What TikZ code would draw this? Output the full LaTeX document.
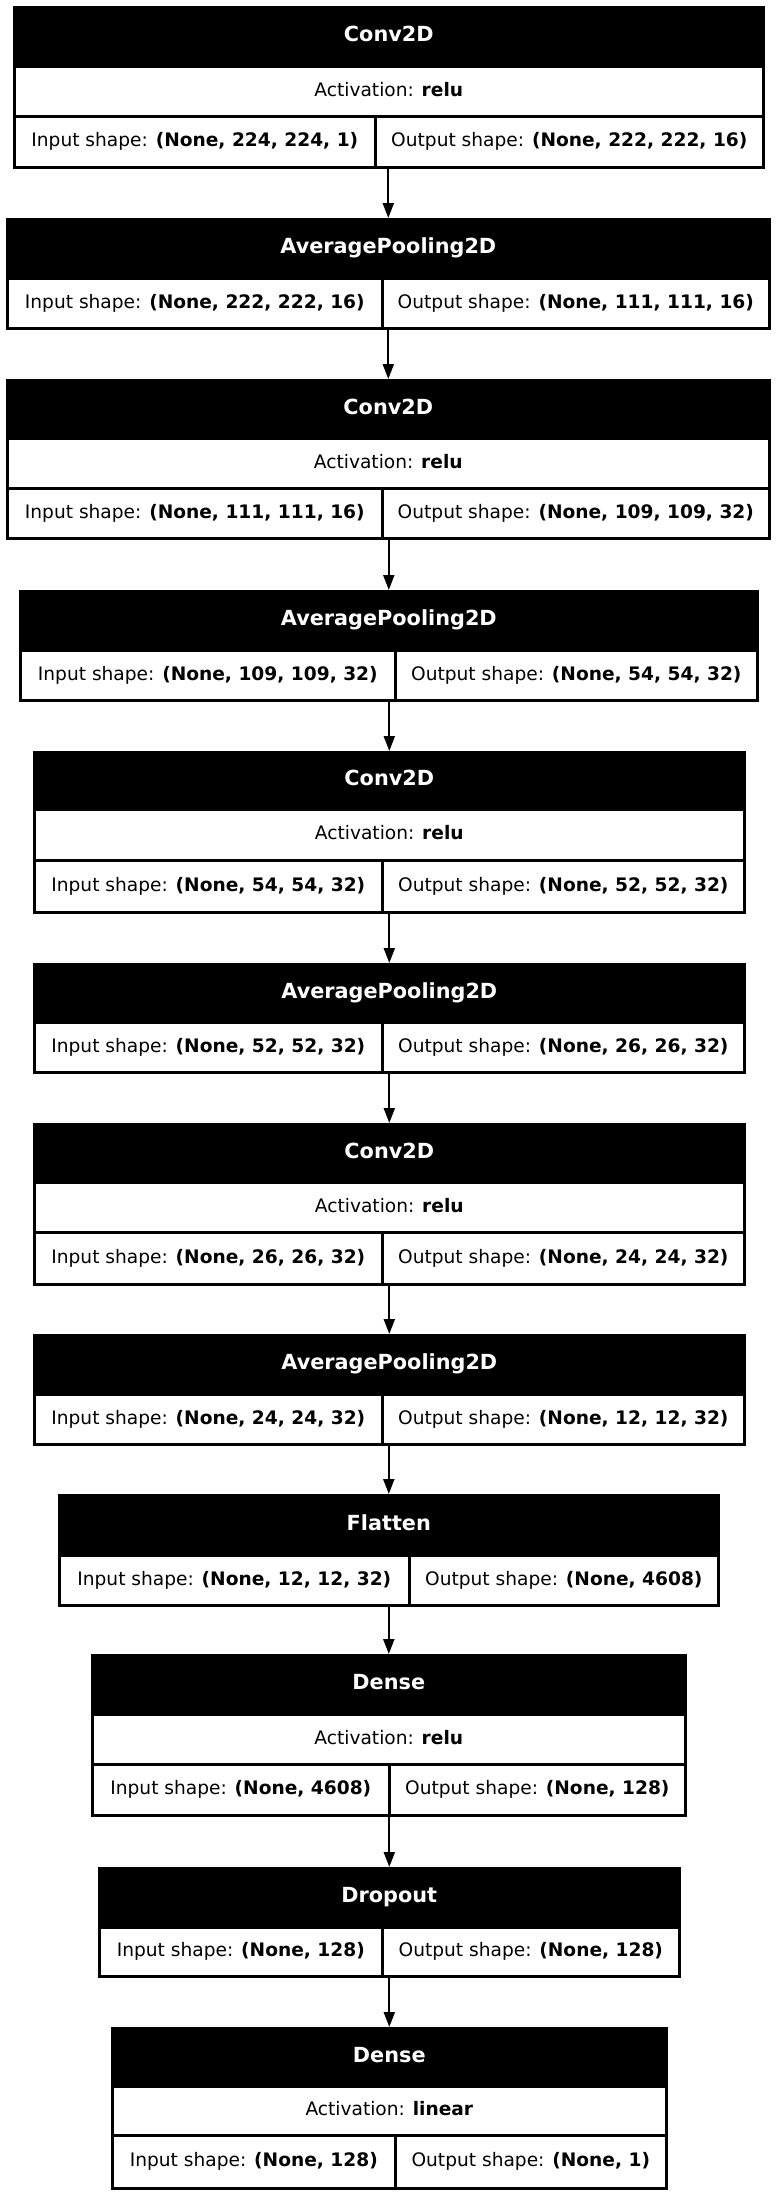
\documentclass[tikz,border=0pt]{standalone}
\usepackage{fontspec}
\setmainfont{DejaVu Sans}
\usepackage{tikz}
\usetikzlibrary{arrows.meta}
\tikzset{
  cell/.style={draw, line width=2.6pt, anchor=north west, inner sep=0pt,
               text height=15pt, text depth=5pt, font=\fontsize{18.6}{22}\selectfont},
  head/.style={cell, fill=black, text=white, font=\fontsize{20.8}{24}\selectfont\bfseries},
  link/.style={-{Triangle[length=15pt,width=11pt]}, line width=2pt}
}

\begin{document}
\begin{tikzpicture}[x=1pt, y=-1pt]
  \useasboundingbox (0,0) rectangle (776,2195);
  % Conv2D
  \node[head, minimum width=749pt, minimum height=59pt] (conv1) at (13,6) {Conv2D};
  \node[cell, minimum width=749pt, minimum height=50pt] (conv1act) at (13,65) {Activation: \textbf{relu}};
  \node[cell, minimum width=361pt, minimum height=51pt] (conv1in) at (13,115) {Input shape: \textbf{(None, 224, 224, 1)}};
  \node[cell, minimum width=388pt, minimum height=51pt] (conv1out) at (374,115) {Output shape: \textbf{(None, 222, 222, 16)}};
  % AveragePooling2D
  \node[head, minimum width=762pt, minimum height=59pt] (pool1) at (6,218) {AveragePooling2D};
  \node[cell, minimum width=375pt, minimum height=50pt] (pool1in) at (6,277) {Input shape: \textbf{(None, 222, 222, 16)}};
  \node[cell, minimum width=387pt, minimum height=50pt] (pool1out) at (381,277) {Output shape: \textbf{(None, 111, 111, 16)}};
  % Conv2D
  \node[head, minimum width=762pt, minimum height=58pt] (conv2) at (6,379) {Conv2D};
  \node[cell, minimum width=762pt, minimum height=50pt] (conv2act) at (6,437) {Activation: \textbf{relu}};
  \node[cell, minimum width=375pt, minimum height=50pt] (conv2in) at (6,487) {Input shape: \textbf{(None, 111, 111, 16)}};
  \node[cell, minimum width=387pt, minimum height=50pt] (conv2out) at (381,487) {Output shape: \textbf{(None, 109, 109, 32)}};
  % AveragePooling2D
  \node[head, minimum width=737pt, minimum height=59pt] (pool2) at (19,590) {AveragePooling2D};
  \node[cell, minimum width=375pt, minimum height=50pt] (pool2in) at (19,649) {Input shape: \textbf{(None, 109, 109, 32)}};
  \node[cell, minimum width=362pt, minimum height=50pt] (pool2out) at (394,649) {Output shape: \textbf{(None, 54, 54, 32)}};
  % Conv2D
  \node[head, minimum width=710pt, minimum height=57pt] (conv3) at (33,751) {Conv2D};
  \node[cell, minimum width=710pt, minimum height=51pt] (conv3act) at (33,808) {Activation: \textbf{relu}};
  \node[cell, minimum width=348pt, minimum height=52pt] (conv3in) at (33,859) {Input shape: \textbf{(None, 54, 54, 32)}};
  \node[cell, minimum width=362pt, minimum height=52pt] (conv3out) at (381,859) {Output shape: \textbf{(None, 52, 52, 32)}};
  % AveragePooling2D
  \node[head, minimum width=710pt, minimum height=58pt] (pool3) at (33,963) {AveragePooling2D};
  \node[cell, minimum width=348pt, minimum height=50pt] (pool3in) at (33,1021) {Input shape: \textbf{(None, 52, 52, 32)}};
  \node[cell, minimum width=362pt, minimum height=50pt] (pool3out) at (381,1021) {Output shape: \textbf{(None, 26, 26, 32)}};
  % Conv2D
  \node[head, minimum width=710pt, minimum height=58pt] (conv4) at (33,1123) {Conv2D};
  \node[cell, minimum width=710pt, minimum height=50pt] (conv4act) at (33,1181) {Activation: \textbf{relu}};
  \node[cell, minimum width=348pt, minimum height=52pt] (conv4in) at (33,1231) {Input shape: \textbf{(None, 26, 26, 32)}};
  \node[cell, minimum width=362pt, minimum height=52pt] (conv4out) at (381,1231) {Output shape: \textbf{(None, 24, 24, 32)}};
  % AveragePooling2D
  \node[head, minimum width=710pt, minimum height=59pt] (pool4) at (33,1334) {AveragePooling2D};
  \node[cell, minimum width=348pt, minimum height=50pt] (pool4in) at (33,1393) {Input shape: \textbf{(None, 24, 24, 32)}};
  \node[cell, minimum width=362pt, minimum height=50pt] (pool4out) at (381,1393) {Output shape: \textbf{(None, 12, 12, 32)}};
  % Flatten
  \node[head, minimum width=659pt, minimum height=60pt] (flat) at (58,1494) {Flatten};
  \node[cell, minimum width=350pt, minimum height=50pt] (flatin) at (58,1554) {Input shape: \textbf{(None, 12, 12, 32)}};
  \node[cell, minimum width=309pt, minimum height=50pt] (flatout) at (408,1554) {Output shape: \textbf{(None, 4608)}};
  % Dense
  \node[head, minimum width=593pt, minimum height=59pt] (dense1) at (91,1654) {Dense};
  \node[cell, minimum width=593pt, minimum height=50pt] (dense1act) at (91,1713) {Activation: \textbf{relu}};
  \node[cell, minimum width=297pt, minimum height=51pt] (dense1in) at (91,1763) {Input shape: \textbf{(None, 4608)}};
  \node[cell, minimum width=296pt, minimum height=51pt] (dense1out) at (388,1763) {Output shape: \textbf{(None, 128)}};
  % Dropout
  \node[head, minimum width=580pt, minimum height=59pt] (drop) at (98,1867) {Dropout};
  \node[cell, minimum width=283pt, minimum height=49pt] (dropin) at (98,1926) {Input shape: \textbf{(None, 128)}};
  \node[cell, minimum width=297pt, minimum height=49pt] (dropout) at (381,1926) {Output shape: \textbf{(None, 128)}};
  % Dense
  \node[head, minimum width=554pt, minimum height=58pt] (dense2) at (111,2027) {Dense};
  \node[cell, minimum width=554pt, minimum height=49pt] (dense2act) at (111,2085) {Activation: \textbf{linear}};
  \node[cell, minimum width=283pt, minimum height=53pt] (dense2in) at (111,2134) {Input shape: \textbf{(None, 128)}};
  \node[cell, minimum width=271pt, minimum height=53pt] (dense2out) at (394,2134) {Output shape: \textbf{(None, 1)}};
  % Setas
  \draw[link] (conv1in.south -| pool1.north) -- (pool1.north);
  \draw[link] (pool1in.south -| conv2.north) -- (conv2.north);
  \draw[link] (conv2in.south -| pool2.north) -- (pool2.north);
  \draw[link] (pool2in.south -| conv3.north) -- (conv3.north);
  \draw[link] (conv3in.south -| pool3.north) -- (pool3.north);
  \draw[link] (pool3in.south -| conv4.north) -- (conv4.north);
  \draw[link] (conv4in.south -| pool4.north) -- (pool4.north);
  \draw[link] (pool4in.south -| flat.north) -- (flat.north);
  \draw[link] (flatin.south -| dense1.north) -- (dense1.north);
  \draw[link] (dense1in.south -| drop.north) -- (drop.north);
  \draw[link] (dropin.south -| dense2.north) -- (dense2.north);
\end{tikzpicture}
\end{document}
